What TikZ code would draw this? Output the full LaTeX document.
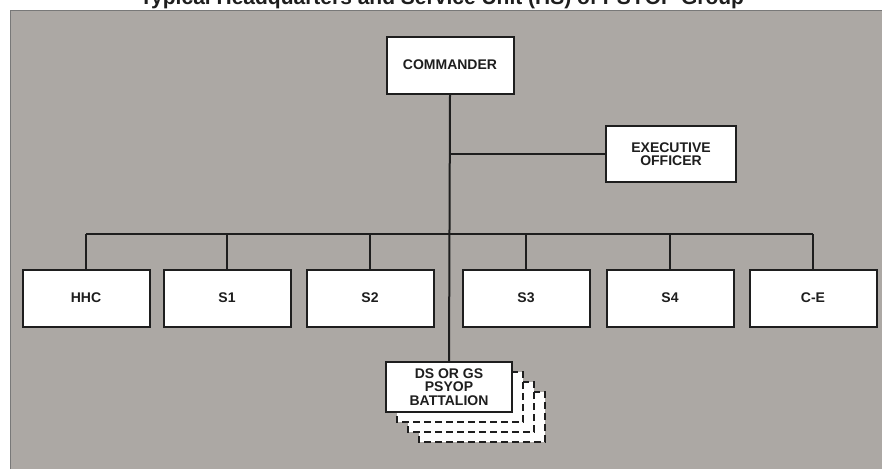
\documentclass[tikz,border=0pt]{standalone}
\usepackage{fontspec}
\setmainfont{Liberation Sans}
\usetikzlibrary{positioning}
\definecolor{colPanel}{RGB}{172,168,164}
\definecolor{colInk}{RGB}{30,30,30}

\begin{document}
\begin{tikzpicture}[x=1pt, y=-1pt, line width=2pt, draw=colInk,
    every node/.style={font=\fontsize{14}{13.5}\selectfont\bfseries, text=colInk},
    unitbox/.style={draw=colInk, fill=white, minimum width=127pt, minimum height=57pt, inner sep=0pt, align=center},
    stackbox/.style={draw=colInk, fill=white, dash pattern=on 7pt off 4pt}]
    \useasboundingbox (0,0) rectangle (882,469);

    % panel and (cut) title
    \fill[colPanel] (10,10) rectangle (882,469);
    \draw[line width=0.8pt, colInk!60] (10,469) -- (10,10) -- (882,10);
    \node[anchor=base, font=\fontsize{21}{21}\selectfont\bfseries] (title) at (442,4) {Typical Headquarters and Service Unit (HS) of PSYOP Group};

    % top of the chart
    \node[unitbox] (cmd) at (450,65) {COMMANDER};
    \node[unitbox, minimum width=130pt, minimum height=56pt] (xo) at (671,154) {EXECUTIVE\\OFFICER};

    % staff sections
    \coordinate (bus) at (450,234);
    \node[unitbox] (hhc) at (86,298) {HHC};
    \node[unitbox] (s1) at (227,298) {S1};
    \node[unitbox] (s2) at (370,298) {S2};
    \node[unitbox] (s3) at (526,298) {S3};
    \node[unitbox] (s4) at (670,298) {S4};
    \node[unitbox] (ce) at (813,298) {C-E};

    % battalions (stacked)
    \coordinate (batpos) at (449,387);
    \foreach \k in {3,2,1} {
        \draw[stackbox] ([shift={(\k*11-63,\k*10-25)}]batpos) rectangle ([shift={(\k*11+63,\k*10+25)}]batpos);
    }
    \node[unitbox, minimum width=126pt, minimum height=50pt] (bat) at (batpos) {DS OR GS\\PSYOP\\BATTALION};

    % connectors
    \draw (cmd.south) -- (bat.north);
    \draw (xo.west) -- (xo.west -| cmd.south);
    \draw (hhc.north |- bus) -- (ce.north |- bus);
    \foreach \u in {hhc,s1,s2,s3,s4,ce} {
        \draw (\u.north) -- (\u.north |- bus);
    }
\end{tikzpicture}
\end{document}
